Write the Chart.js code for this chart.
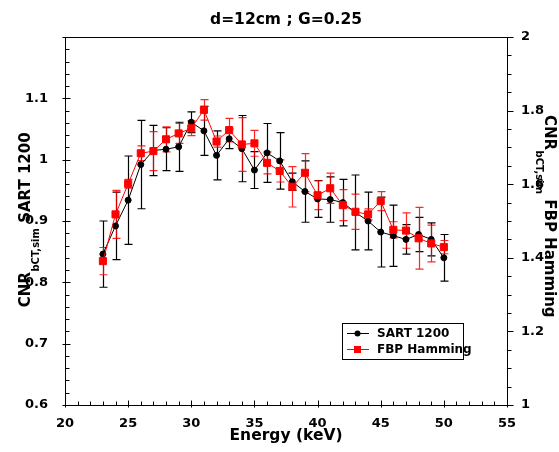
<!DOCTYPE html>
<html>
<head>
<meta charset="utf-8">
<script src="https://cdn.jsdelivr.net/npm/chart.js@4.4.1/dist/chart.umd.min.js"></script>
<style>
  body { margin: 0; background: #fff; }
  canvas { display: block; }
</style>
</head>
<body>
<canvas id="myChart" width="559" height="452"></canvas>
<script>
// Datos
const energy = [23, 24, 25, 26, 27, 28, 29, 30, 31, 32, 33, 34, 35, 36, 37, 38, 39, 40, 41, 42, 43, 44, 45, 46, 47, 48, 49, 50];
const sart = [0.846, 0.892, 0.934, 0.992, 1.015, 1.017, 1.021, 1.061, 1.047, 1.007, 1.034, 1.018, 0.983, 1.011,
              0.998, 0.964, 0.948, 0.936, 0.935, 0.930, 0.914, 0.900, 0.882, 0.876, 0.870, 0.878, 0.870, 0.840];
const sartErr = [0.054, 0.055, 0.072, 0.072, 0.041, 0.035, 0.040, 0.017, 0.040, 0.040, 0.016, 0.054, 0.030, 0.048,
                 0.046, 0.014, 0.050, 0.030, 0.037, 0.038, 0.061, 0.047, 0.057, 0.050, 0.024, 0.028, 0.027, 0.038];
const fbp = [1.391, 1.518, 1.601, 1.684, 1.690, 1.722, 1.738, 1.752, 1.802, 1.716, 1.747, 1.708, 1.711, 1.658,
             1.636, 1.593, 1.631, 1.570, 1.589, 1.543, 1.525, 1.518, 1.554, 1.476, 1.474, 1.453, 1.439, 1.429];
const fbpErr = [0.037, 0.065, 0.012, 0.020, 0.053, 0.034, 0.027, 0.020, 0.028, 0.015, 0.032, 0.073, 0.035, 0.030,
                0.030, 0.055, 0.052, 0.039, 0.041, 0.042, 0.048, 0.015, 0.026, 0.022, 0.048, 0.084, 0.050, 0.018];
const xTicks = [20, 25, 30, 35, 40, 45, 50, 55];
const leftTicks = [0.6, 0.7, 0.8, 0.9, 1.0, 1.1, 1.2];
const rightTicks = [1, 1.2, 1.4, 1.6, 1.8, 2];

const FONT = "'DejaVu Sans', sans-serif";

function fmt(v) { return String(Number(v.toFixed(2))); }

// Barras de error, marco, marcas de eje, titulos y leyenda
const decorPlugin = {
    id: 'decor',
    beforeDatasetsDraw(chart) {
        const ctx = chart.ctx;
        const x = chart.scales.x;
        const sets = [
            { vals: sart, err: sartErr, scale: chart.scales.y, color: '#000' },
            { vals: fbp, err: fbpErr, scale: chart.scales.y2, color: 'rgba(255,0,0,0.85)' }
        ];
        ctx.save();
        ctx.lineWidth = 1.2;
        sets.forEach(s => {
            ctx.strokeStyle = s.color;
            energy.forEach((e, i) => {
                const px = Math.round(x.getPixelForValue(e)) + 0.5;
                const top = s.scale.getPixelForValue(s.vals[i] + s.err[i]);
                const bot = s.scale.getPixelForValue(s.vals[i] - s.err[i]);
                ctx.beginPath();
                ctx.moveTo(px, top); ctx.lineTo(px, bot);
                ctx.moveTo(px - 4, top); ctx.lineTo(px + 4, top);
                ctx.moveTo(px - 4, bot); ctx.lineTo(px + 4, bot);
                ctx.stroke();
            });
        });
        ctx.restore();
    },
    afterDraw(chart) {
        const ctx = chart.ctx;
        const a = chart.chartArea;
        const x = chart.scales.x, y = chart.scales.y, y2 = chart.scales.y2;
        ctx.save();
        ctx.strokeStyle = '#000';
        ctx.lineWidth = 1;
        const L = Math.round(a.left) + 0.5, R = Math.round(a.right) + 0.5;
        const T = Math.round(a.top) + 0.5, B = Math.round(a.bottom) + 0.5;
        ctx.strokeRect(L, T, R - L, B - T);

        ctx.beginPath();
        // eje x: marcas hacia dentro
        for (let v = 20; v <= 55; v++) {
            const px = Math.round(x.getPixelForValue(v)) + 0.5;
            const major = v % 5 === 0;
            ctx.moveTo(px, B + (major ? 2 : 0));
            ctx.lineTo(px, B - (major ? 5 : 4));
        }
        // eje izquierdo
        for (let k = 0; k <= 30; k++) {
            const v = 0.6 + k * 0.02;
            const py = Math.round(y.getPixelForValue(v)) + 0.5;
            const major = k % 5 === 0;
            ctx.moveTo(L - (major ? 3 : 0), py);
            ctx.lineTo(L + (major ? 5 : 4), py);
        }
        // eje derecho: marcas hacia fuera
        for (let k = 0; k <= 20; k++) {
            const v = 1 + k * 0.05;
            const py = Math.round(y2.getPixelForValue(v)) + 0.5;
            const major = k % 4 === 0;
            ctx.moveTo(R, py);
            ctx.lineTo(R + (major ? 6 : 4), py);
        }
        ctx.stroke();

        ctx.fillStyle = '#000';
        const cx = (a.left + a.right) / 2;
        // titulo
        ctx.font = 'bold 15.5px ' + FONT;
        ctx.textAlign = 'center';
        ctx.textBaseline = 'middle';
        ctx.fillText('d=12cm ; G=0.25', cx, 20);
        // titulo eje x
        ctx.font = 'bold 15.5px ' + FONT;
        ctx.fillText('Energy (keV)', cx, 436);

        // titulos de ejes y con subindice
        function subTitle(tx, ty, rot, rest) {
            const mainF = 'bold 15px ' + FONT, subF = 'bold 10px ' + FONT;
            ctx.save();
            ctx.translate(tx, ty);
            ctx.rotate(rot);
            ctx.textAlign = 'left';
            ctx.textBaseline = 'alphabetic';
            ctx.font = mainF; const w1 = ctx.measureText('CNR').width;
            ctx.font = subF; const w2 = ctx.measureText('bCT,sim').width;
            ctx.font = mainF; const w3 = ctx.measureText(rest).width;
            let sx = -(w1 + w2 + w3) / 2;
            ctx.font = mainF; ctx.fillText('CNR', sx, 6); sx += w1 + 0.5;
            ctx.font = subF; ctx.fillText('bCT,sim', sx, 15); sx += w2;
            ctx.font = mainF; ctx.fillText(rest, sx, 6);
            ctx.restore();
        }
        subTitle(24, 220, -Math.PI / 2, ' SART 1200');
        subTitle(551, 216, Math.PI / 2, ' FBP Hamming');

        // leyenda
        ctx.fillStyle = '#fff';
        ctx.fillRect(342, 323, 121, 36);
        ctx.strokeRect(342.5, 323.5, 121, 36);
        ctx.font = 'bold 12px ' + FONT;
        ctx.textAlign = 'left';
        ctx.textBaseline = 'middle';
        const items = [
            { label: 'SART 1200', color: '#000', y: 333.5, square: false },
            { label: 'FBP Hamming', color: '#f00', y: 349.5, square: true }
        ];
        items.forEach(it => {
            ctx.strokeStyle = it.color;
            ctx.fillStyle = it.color;
            ctx.beginPath();
            ctx.moveTo(347, it.y); ctx.lineTo(369, it.y);
            ctx.stroke();
            if (it.square) {
                ctx.fillRect(354, it.y - 3.5, 7, 7);
            } else {
                ctx.beginPath();
                ctx.arc(357.5, it.y, 3, 0, Math.PI * 2);
                ctx.fill();
            }
            ctx.fillStyle = '#000';
            ctx.fillText(it.label, 377, it.y);
        });
        ctx.restore();
    }
};

const ctx = document.getElementById('myChart').getContext('2d');
new Chart(ctx, {
    type: 'line',
    data: {
        datasets: [{
            label: 'SART 1200',
            data: energy.map((e, i) => ({ x: e, y: sart[i] })),
            yAxisID: 'y',
            borderColor: '#000',
            backgroundColor: '#000',
            borderWidth: 1,
            pointStyle: 'circle',
            pointRadius: 3,
            pointBorderWidth: 1,
            order: 2
        }, {
            label: 'FBP Hamming',
            data: energy.map((e, i) => ({ x: e, y: fbp[i] })),
            yAxisID: 'y2',
            borderColor: '#f00',
            backgroundColor: '#f00',
            borderWidth: 1,
            pointStyle: 'rect',
            pointRadius: 5,
            pointBorderWidth: 1,
            order: 1
        }]
    },
    options: {
        responsive: false,
        animation: false,
        layout: { padding: { top: 37, left: 0, right: 0, bottom: 0 } },
        plugins: {
            legend: { display: false },
            tooltip: { enabled: false }
        },
        scales: {
            x: {
                type: 'linear',
                min: 20, max: 55,
                afterBuildTicks: s => { s.ticks = xTicks.map(v => ({ value: v })); },
                afterFit: s => { s.height = 47; },
                grid: { display: false },
                border: { display: false },
                ticks: { color: '#000', font: { family: FONT, size: 13, weight: 'bold' }, padding: 3, maxRotation: 0 }
            },
            y: {
                position: 'left',
                min: 0.6, max: 1.2,
                afterBuildTicks: s => { s.ticks = leftTicks.map(v => ({ value: v })); },
                afterFit: s => { s.width = 65; },
                grid: { display: false },
                border: { display: false },
                ticks: {
                    color: '#000', font: { family: FONT, size: 13, weight: 'bold' }, padding: 9,
                    callback: v => (Math.abs(v - 1.2) < 1e-6 ? '' : fmt(v))
                }
            },
            y2: {
                position: 'right',
                min: 1, max: 2,
                afterBuildTicks: s => { s.ticks = rightTicks.map(v => ({ value: v })); },
                afterFit: s => { s.width = 52; },
                grid: { display: false },
                border: { display: false },
                ticks: {
                    color: '#000', font: { family: FONT, size: 13, weight: 'bold' }, padding: 6,
                    callback: v => fmt(v)
                }
            }
        }
    },
    plugins: [decorPlugin]
});
</script>
</body>
</html>
